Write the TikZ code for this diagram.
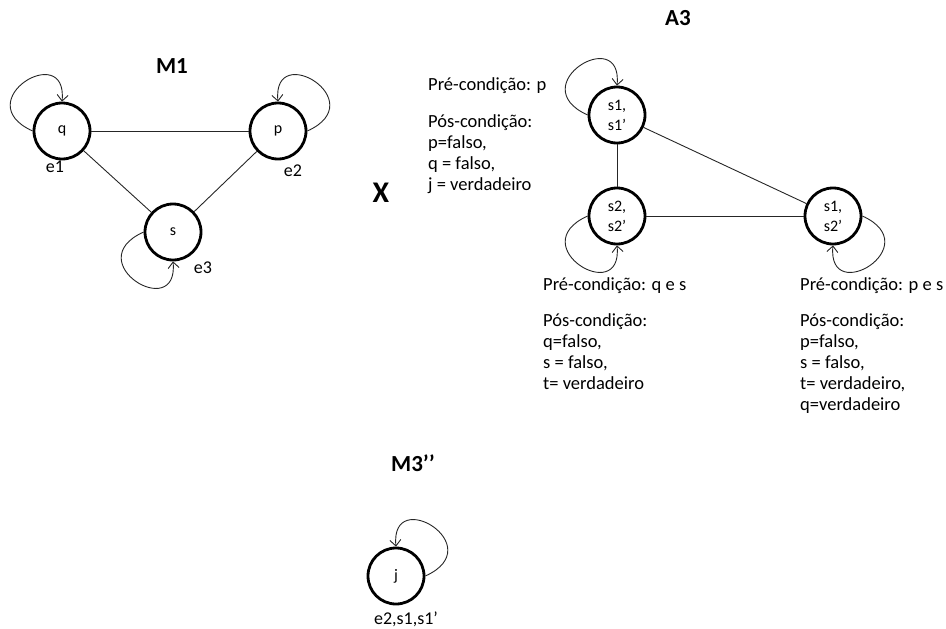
\documentclass[tikz,border=0pt]{standalone}
\usepackage{fontspec}
\setmainfont{Carlito}
\usetikzlibrary{arrows.meta}

\tikzset{
  state/.style={circle, draw, line width=2.8pt, minimum size=56pt, inner sep=0pt,
                font=\fontsize{16}{20}\selectfont, align=center},
  edge/.style={line width=0.9pt, draw=black!85},
  selfloop/.style={line width=0.9pt, draw=black!85,
                   -{Straight Barb[length=6pt,width=11pt,line width=0.9pt]}},
  title/.style={font=\fontsize{23}{26}\selectfont\bfseries},
  statelabel/.style={font=\fontsize{18}{21}\selectfont},
  cond/.style={anchor=base west, align=left, inner sep=0pt,
               font=\fontsize{18.5}{21}\selectfont}
}

\begin{document}
\begin{tikzpicture}[x=1pt, y=-1pt]
  \useasboundingbox (0,0) rectangle (946,629);

  % ---- M1 ----
  \node[title] (m1) at (172,66) {M1};
  \node[state] (q) at (62,131) {q};
  \node[state] (p) at (278,131) {p};
  \node[state] (s) at (173,232) {s};
  \draw[edge] (q) -- (p);
  \draw[edge] (q) -- (s);
  \draw[edge] (p) -- (s);
  \draw[selfloop] (q.west) .. controls +(-66,-30) and +(6,-62) .. (q.north);
  \draw[selfloop] (p.east) .. controls +(66,-30) and +(-6,-62) .. (p.north);
  \draw[selfloop] (s.west) .. controls +(-66,30) and +(6,62) .. (s.south);
  \node[statelabel] (le1) at (55,167) {e1};
  \node[statelabel] (le2) at (293,171) {e2};
  \node[statelabel] (le3) at (203,268) {e3};

  % ---- product sign ----
  \node[font=\fontsize{30}{32}\selectfont\bfseries] (times) at (381,193) {X};

  % ---- A3 ----
  \node[title] (a3) at (678,18) {A3};
  \node[state] (s1) at (617,115) {s1,\\s1’};
  \node[state] (s2) at (617,216) {s2,\\s2’};
  \node[state] (s12) at (833,216) {s1,\\s2’};
  \draw[edge] (s1) -- (s2);
  \draw[edge] (s1) -- (s12);
  \draw[edge] (s2) -- (s12);
  \draw[selfloop] (s1.west) .. controls +(-66,-30) and +(6,-62) .. (s1.north);
  \draw[selfloop] (s2.west) .. controls +(-66,30) and +(6,62) .. (s2.south);
  \draw[selfloop] (s12.east) .. controls +(66,30) and +(-6,62) .. (s12.south);

  % condition blocks: the base anchor sits on the last line
  \node[cond] (pre1) at (428,90) {Pré-condição: p};
  \node[cond] (pos1) at (428,190) {Pós-condição:\\p=falso,\\q = falso,\\j = verdadeiro};

  \node[cond] (pre2) at (543,290) {Pré-condição: q e s};
  \node[cond] (pos2) at (543,389) {Pós-condição:\\q=falso,\\s = falso,\\t= verdadeiro};

  \node[cond] (pre3) at (800,290) {Pré-condição: p e s};
  \node[cond] (pos3) at (800,410) {Pós-condição:\\p=falso,\\s = falso,\\t= verdadeiro,\\q=verdadeiro};

  % ---- M3'' ----
  \node[title] (m3) at (413,463) {M3’’};
  \node[state] (j) at (396,576) {j};
  \draw[selfloop] (j.east) .. controls +(66,-30) and +(-6,-62) .. (j.north);
  \node[statelabel] (lj) at (406,619) {e2,s1,s1’};
\end{tikzpicture}
\end{document}
